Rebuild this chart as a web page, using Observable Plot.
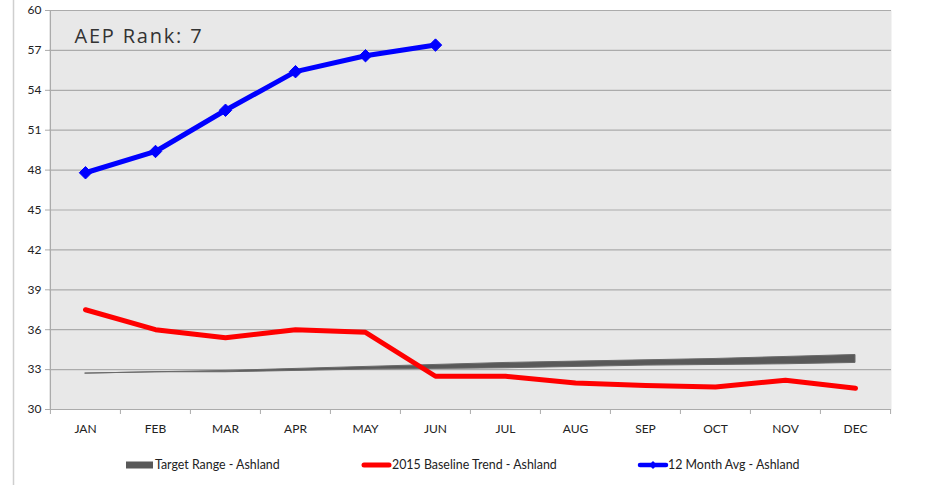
<!DOCTYPE html>
<html>
<head>
<meta charset="utf-8">
<script src="https://cdn.jsdelivr.net/npm/d3@7"></script>
<script src="https://cdn.jsdelivr.net/npm/@observablehq/plot@0.6"></script>
<style>
  html, body { margin: 0; padding: 0; background: #fff; }
  #chart { position: relative; width: 930px; height: 485px; }
</style>
</head>
<body>
<div id="chart"></div>
<script>
const months = ["JAN","FEB","MAR","APR","MAY","JUN","JUL","AUG","SEP","OCT","NOV","DEC"];
const yTicks = [30,33,36,39,42,45,48,51,54,57,60];
const avg12 = [47.8, 49.4, 52.5, 55.4, 56.6, 57.4]; // JAN..JUN
const baseline2015 = [37.5, 36.0, 35.4, 36.0, 35.8, 32.5, 32.5, 32.0, 31.8, 31.7, 32.2, 31.6];
const targetLow  = [32.7, 32.8, 32.8, 32.9, 33.0, 33.05, 33.1, 33.2, 33.3, 33.35, 33.4, 33.5];
const targetHigh = [32.7, 32.8, 32.9, 33.05, 33.2, 33.35, 33.5, 33.6, 33.7, 33.8, 33.95, 34.1];
const seriesNames = ["Target Range - Ashland", "2015 Baseline Trend - Ashland", "12 Month Avg - Ashland"];
const annotation = "AEP Rank: 7";

const W = 930, H = 485, mL = 49, mR = 39, mT = 10, mB = 76;
const step = (W - mL - mR) / months.length;

const target = months.map((m, i) => ({month: m, low: targetLow[i], high: targetHigh[i]}));
const base = months.map((m, i) => ({month: m, v: baseline2015[i]}));
const avg = avg12.map((v, i) => ({month: months[i], v}));

const font = "Lato, 'Open Sans', sans-serif";

const plot = Plot.plot({
  width: W, height: H,
  marginLeft: mL, marginRight: mR, marginTop: mT, marginBottom: mB,
  style: {fontFamily: font, background: "#fff"},
  x: {type: "point", domain: months, padding: 0.5, align: 0.5},
  y: {domain: [30, 60]},
  marks: [
    Plot.frame({fill: "#e8e8e8", stroke: null}),
    Plot.gridY(yTicks, {stroke: "#ababab", strokeOpacity: 1, strokeWidth: 1.2}),
    Plot.ruleX([months[0]], {dx: -step / 2, stroke: "#ababab", strokeWidth: 1.2}),
    Plot.ruleX(months, {x: d => d, y1: 30, y2: 30, dx: -step / 2, insetBottom: -5, stroke: "#ababab"}),
    Plot.ruleX([months[months.length - 1]], {y1: 30, y2: 30, dx: step / 2, insetBottom: -5, stroke: "#ababab"}),
    Plot.axisY({ticks: yTicks, tickSize: 4, tickPadding: 4, stroke: "#ababab", fill: "#222", fontSize: 12, label: null, tickFormat: d => String(d)}),
    Plot.axisX({tickSize: 0, tickPadding: 15, fill: "#222", fontSize: 12, label: null}),
    Plot.areaY(target, {x: "month", y1: "low", y2: "high", fill: "#595959", stroke: "#6a6a6a", strokeWidth: 1}),
    Plot.line(base, {x: "month", y: "v", stroke: "#ff0000", strokeWidth: 5, strokeLinejoin: "round", strokeLinecap: "round"}),
    Plot.line(avg, {x: "month", y: "v", stroke: "#0000ff", strokeWidth: 5, strokeLinejoin: "round"}),
    Plot.dot(avg, {x: "month", y: "v", symbol: "diamond2", r: 5.6, fill: "#0000ff", stroke: "#0000ff", strokeWidth: 1}),
    Plot.text([annotation], {frameAnchor: "top-left", dx: 25, dy: 18, lineAnchor: "top", textAnchor: "start", fontSize: 20, fill: "#333", fontWeight: 500, fontFamily: "'Open Sans', sans-serif", className: "rank-note"})
  ]
});

document.getElementById("chart").appendChild(plot);

const svg = d3.select(plot);
svg.selectAll("text").filter(function() { return this.textContent === annotation; })
  .attr("letter-spacing", "1.8px");

// outer decoration line
svg.append("line").attr("x1", 13.5).attr("x2", 13.5).attr("y1", 0).attr("y2", H)
  .attr("stroke", "#cfcfcf").attr("stroke-width", 1.5);

// legend
const ly = 465;
const lg = svg.append("g").attr("font-family", font).attr("font-size", 12.4).attr("fill", "#222").attr("text-anchor", "start");
lg.append("rect").attr("x", 126).attr("y", ly - 3.5).attr("width", 27).attr("height", 7).attr("fill", "#595959");
lg.append("text").attr("x", 155).attr("y", ly).attr("dy", "0.35em").text(seriesNames[0]);
lg.append("line").attr("x1", 364).attr("x2", 389).attr("y1", ly).attr("y2", ly)
  .attr("stroke", "#ff0000").attr("stroke-width", 5).attr("stroke-linecap", "round");
lg.append("text").attr("x", 392).attr("y", ly).attr("dy", "0.35em").text(seriesNames[1]);
lg.append("line").attr("x1", 640).attr("x2", 666).attr("y1", ly).attr("y2", ly)
  .attr("stroke", "#0000ff").attr("stroke-width", 4.5).attr("stroke-linecap", "round");
lg.append("path").attr("d", d3.symbol(d3.symbolDiamond2, 40)()).attr("transform", `translate(653,${ly})`).attr("fill", "#0000ff");
lg.append("text").attr("x", 668).attr("y", ly).attr("dy", "0.35em").text(seriesNames[2]);
</script>
</body>
</html>
